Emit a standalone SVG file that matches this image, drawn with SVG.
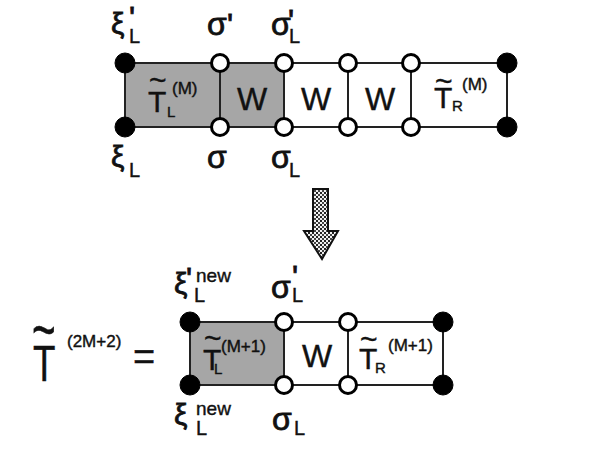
<svg xmlns="http://www.w3.org/2000/svg" width="599" height="449" viewBox="0 0 599 449">
<defs>
<pattern id="dots" width="4" height="4" patternUnits="userSpaceOnUse">
<rect width="4" height="4" fill="#f0f0f0"/>
<rect x="0" y="0" width="2" height="2" fill="#222"/>
<rect x="2" y="2" width="2" height="2" fill="#444"/>
</pattern>
<style>
.ln{stroke:#222;stroke-width:2;fill:none}
.gray{fill:#a6a6a6;stroke:none}
.op{fill:#fff;stroke:#000;stroke-width:3}
.bk{fill:#000;stroke:#000;stroke-width:1}
text{font-family:"Liberation Sans",Arial,sans-serif;fill:#111;stroke:#111;stroke-width:0.4}
.xi{font-size:30px;stroke-width:0.8}
.sg{font-size:32px;stroke-width:0.8}
.sub{font-size:20px}
.pr{font-size:32px;stroke-width:0.8}
.nw{font-size:19px}
.w{font-size:32px;text-anchor:middle}
.t{font-size:30px}
.sup{font-size:17px}
.ss{font-size:15px}
</style>
</defs>
<rect width="599" height="449" fill="#fff" stroke="none"/>

<g id="top-lattice">
<rect class="gray" x="125" y="63" width="159" height="64"/>
</g>
<g id="bottom-lattice">
<rect class="gray" x="190" y="322" width="94" height="63"/>
</g>
<g id="connectors">
<path class="ln" d="M125 63 H507 M125 127 H507 M125 63 V127 M220 63 V127 M284 63 V127 M348 63 V127 M411 63 V127 M507 63 V127"/>
<path class="ln" d="M190 322 H443 M190 385 H443 M190 322 V385 M284 322 V385 M348 322 V385 M443 322 V385"/>
</g>

<g id="top-nodes">
<circle class="bk" cx="125" cy="63" r="10"/>
<circle class="bk" cx="125" cy="127" r="10"/>
<circle class="op" cx="220" cy="63" r="8.5"/>
<circle class="op" cx="220" cy="127" r="8.5"/>
<circle class="op" cx="284" cy="63" r="8.5"/>
<circle class="op" cx="284" cy="127" r="8.5"/>
<circle class="op" cx="348" cy="63" r="8.5"/>
<circle class="op" cx="348" cy="127" r="8.5"/>
<circle class="op" cx="411" cy="63" r="8.5"/>
<circle class="op" cx="411" cy="127" r="8.5"/>
<circle class="bk" cx="507" cy="63" r="10"/>
<circle class="bk" cx="507" cy="127" r="10"/>
</g>

<g id="top-labels">
<text class="xi" x="111" y="34">ξ</text><text class="sub" x="129" y="43">L</text><text class="pr" x="129" y="29">'</text>
<text class="sg" x="207" y="35">σ</text><text class="pr" x="227" y="36">'</text>
<text class="sg" x="271" y="35">σ</text><text class="sub" x="289" y="43">L</text><text class="pr" x="288" y="32">'</text>
<text class="xi" x="111" y="167">ξ</text><text class="sub" x="129" y="177">L</text>
<text class="sg" x="207" y="168">σ</text>
<text class="sg" x="271" y="168">σ</text><text class="sub" x="289" y="177">L</text>
</g>

<g id="top-cells">
<text class="t" x="148" y="112">T</text><text class="t" x="149" y="90">~</text>
<text class="ss" x="167" y="117">L</text><text class="sup" x="172" y="94">(M)</text>
<text class="w" x="252" y="110">W</text>
<text class="w" x="316" y="110">W</text>
<text class="w" x="380" y="110">W</text>
<text class="t" x="434" y="108">T</text><text class="t" x="435" y="91">~</text>
<text class="ss" x="452" y="111">R</text><text class="sup" x="462" y="90">(M)</text>
</g>

<g id="arrow">
<path d="M313 189 H328 V231 H338 L322 259 L304 231 H313 Z" fill="url(#dots)" stroke="#111" stroke-width="2"/>
</g>

<g id="lhs">
<text x="33" y="381" font-size="49" transform="translate(33 381) scale(0.75 1) translate(-33 -381)">T</text>
<text x="32" y="352" font-size="54" stroke-width="1.2" transform="translate(32 352) scale(0.75 1.2) translate(-32 -352)">~</text>
<text class="sup" x="67" y="347">(2M+2)</text>
<text x="133" y="370" font-size="38">=</text>
</g>

<g id="bottom-nodes">
<circle class="bk" cx="190" cy="322" r="10"/>
<circle class="bk" cx="190" cy="385" r="10"/>
<circle class="op" cx="284" cy="322" r="8.5"/>
<circle class="op" cx="284" cy="385" r="8.5"/>
<circle class="op" cx="348" cy="322" r="8.5"/>
<circle class="op" cx="348" cy="385" r="8.5"/>
<circle class="bk" cx="443" cy="322" r="10"/>
<circle class="bk" cx="443" cy="385" r="10"/>
</g>

<g id="bottom-labels">
<text class="xi" x="174" y="294">ξ</text><text class="sub" x="194" y="302">L</text><text class="pr" x="186" y="290" font-size="28">'</text><text class="nw" x="196" y="282">new</text>
<text class="sg" x="271" y="298">σ</text><text class="sub" x="292" y="302">L</text><text class="pr" x="292" y="288">'</text>
<text class="xi" x="174" y="425">ξ</text><text class="sub" x="196" y="435">L</text><text class="nw" x="196" y="415">new</text>
<text class="sg" x="272" y="430">σ</text><text class="sub" x="294" y="435">L</text>
</g>

<g id="bottom-cells">
<text class="t" x="203" y="370">T</text><text class="t" x="204" y="348">~</text>
<text class="ss" x="214" y="374">L</text><text class="sup" x="221" y="352" font-size="18">(M+1)</text>
<text class="w" x="317" y="367">W</text>
<text class="t" x="359" y="369">T</text><text class="t" x="360" y="349">~</text>
<text class="ss" x="375" y="373">R</text><text class="sup" x="388" y="351" font-size="18">(M+1)</text>
</g>
</svg>
